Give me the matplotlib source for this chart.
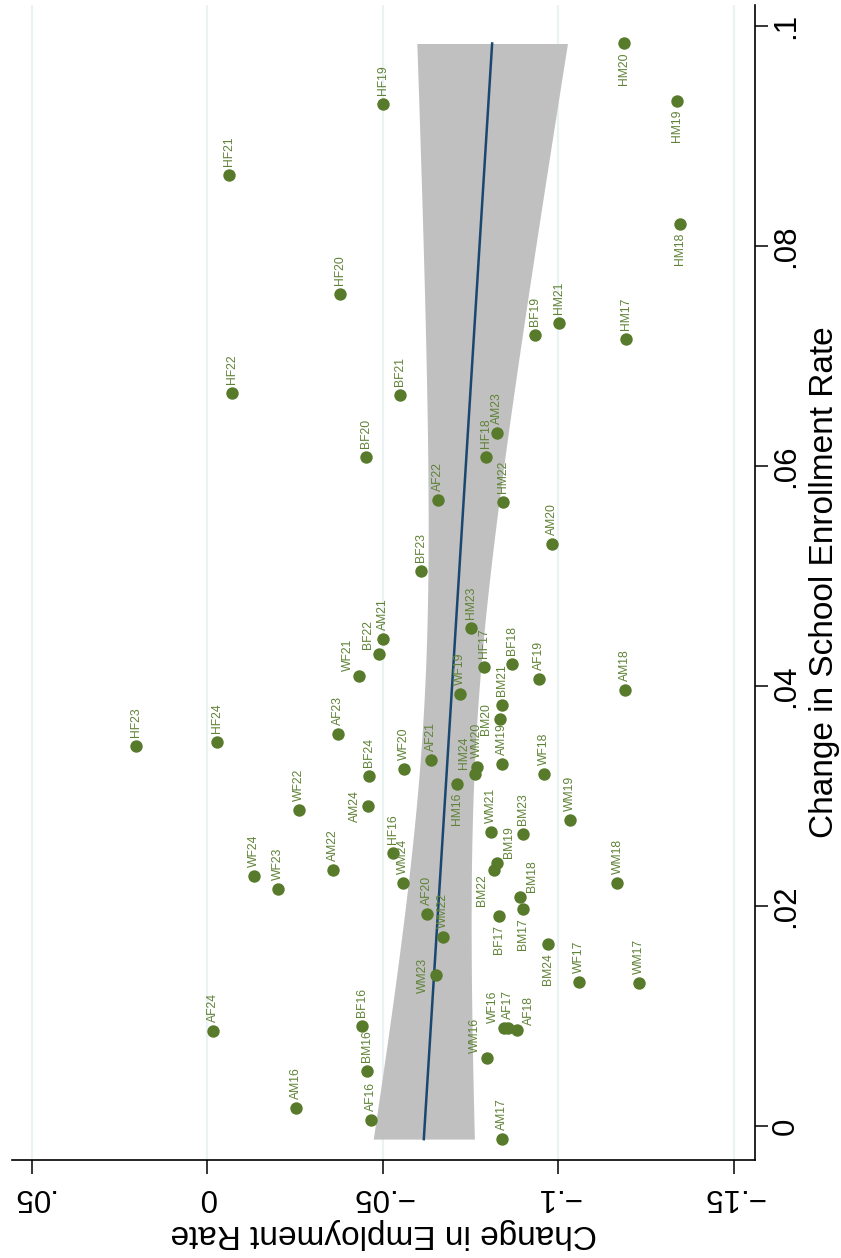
import numpy as np
import matplotlib
matplotlib.use('Agg')
import matplotlib.pyplot as plt

plt.rcParams['font.family'] = ['Liberation Sans', 'DejaVu Sans']

# ---- data ----
labels = ['HF23', 'AF24', 'HF24', 'HF21', 'HF22', 'WF24', 'WF23', 'AM16', 'WF22', 'AM22',
          'AF23', 'HF20', 'WF21', 'BF20', 'BF16', 'BM16', 'AF16', 'AM24', 'BF24', 'BF22',
          'AM21', 'HF19', 'HF16', 'BF21', 'WM24', 'WF20', 'BF23', 'AF20', 'AF21', 'WM23',
          'AF22', 'WM22', 'HM16', 'WF19', 'HM23', 'HM24', 'WM20', 'HF17', 'HF18', 'WM16',
          'WM21', 'BM22', 'BM19', 'AM23', 'BF17', 'BM20', 'BM21', 'AM17', 'AM19', 'HM22',
          'WF16', 'AF17', 'BF18', 'AF18', 'BM18', 'BM17', 'BM23', 'BF19', 'AF19', 'WF18',
          'BM24', 'AM20', 'HM21', 'WM19', 'WF17', 'WM18', 'HM20', 'AM18', 'HM17', 'WM17',
          'HM19', 'HM18']

emp_change = [0.0204, -0.0015, -0.0028, -0.0062, -0.0071, -0.0133, -0.0200, -0.0253, -0.0262, -0.0357,
              -0.0373, -0.0378, -0.0433, -0.0451, -0.0442, -0.0454, -0.0466, -0.0459, -0.0462, -0.0490,
              -0.0500, -0.0501, -0.0530, -0.0549, -0.0557, -0.0560, -0.0609, -0.0625, -0.0637, -0.0652,
              -0.0658, -0.0671, -0.0712, -0.0720, -0.0751, -0.0763, -0.0769, -0.0789, -0.0793, -0.0796,
              -0.0808, -0.0817, -0.0826, -0.0826, -0.0831, -0.0834, -0.0839, -0.0839, -0.0840, -0.0844,
              -0.0846, -0.0858, -0.0867, -0.0883, -0.0891, -0.0900, -0.0900, -0.0934, -0.0946, -0.0960,
              -0.0970, -0.0983, -0.1003, -0.1034, -0.1059, -0.1169, -0.1188, -0.1190, -0.1193, -0.1230,
              -0.1339, -0.1347]

enr_change = [0.0345, 0.0086, 0.0349, 0.0864, 0.0666, 0.0227, 0.0215, 0.0016, 0.0287, 0.0233,
              0.0356, 0.0756, 0.0409, 0.0608, 0.0091, 0.0050, 0.0005, 0.0291, 0.0318, 0.0429,
              0.0443, 0.0929, 0.0248, 0.0664, 0.0221, 0.0324, 0.0504, 0.0193, 0.0333, 0.0137,
              0.0569, 0.0172, 0.0311, 0.0393, 0.0453, 0.0320, 0.0326, 0.0417, 0.0608, 0.0062,
              0.0267, 0.0233, 0.0239, 0.0630, 0.0191, 0.0370, 0.0383, -0.0012, 0.0329, 0.0567,
              0.0089, 0.0089, 0.0420, 0.0087, 0.0208, 0.0197, 0.0265, 0.0719, 0.0406, 0.0320,
              0.0165, 0.0529, 0.0730, 0.0278, 0.0131, 0.0221, 0.0984, 0.0396, 0.0715, 0.0130,
              0.0932, 0.0820]

emp_ticks = [0.05, 0.0, -0.05, -0.10, -0.15]
emp_ticklabels = ['.05', '0', '\u2212.05', '\u2212.1', '\u2212.15']
enr_ticks = [0.0, 0.02, 0.04, 0.06, 0.08, 0.10]
enr_ticklabels = ['0', '.02', '.04', '.06', '.08', '.1']

# label placement (style only): side of the marker in the rotated picture
label_side = {'WF21': 'ul', 'BF22': 'ul', 'AM24': 'l', 'WM23': 'l', 'HM16': 'd',
              'HM24': 'ul', 'BM20': 'l', 'BM22': 'dl', 'BF17': 'd', 'BM17': 'd',
              'BM24': 'd', 'BM18': 'ur', 'BM19': 'ur', 'WF16': 'ul', 'AF18': 'ur',
              'WM16': 'ul', 'HM20': 'd', 'HM19': 'd', 'HM18': 'd'}
side_style = {'u': ((0, 6.5), 'center', 'bottom'),
              'd': ((0, -6.5), 'center', 'top'),
              'l': ((-5.5, 0), 'right', 'center'),
              'ul': ((-4, 3.5), 'right', 'bottom'),
              'ur': ((4, 3.5), 'left', 'bottom'),
              'dl': ((-4, -3.5), 'right', 'top')}

marker_color = '#577a2b'
label_color = '#5f8237'
line_color = '#1a476f'
band_color = '#c0c0c0'
grid_color = '#eaf2f3'

fig = plt.figure(figsize=(8.41, 12.58), dpi=100)
ax = fig.add_axes([12 / 841, 1 - 1160 / 1258, 743 / 841, 1155 / 1258])

x = np.array(enr_change)
y = np.array(emp_change)
n = len(x)
b1, b0 = np.polyfit(x, y, 1)
resid = y - (b0 + b1 * x)
s2 = (resid ** 2).sum() / (n - 2)
grid = np.linspace(x.min(), x.max(), 200)
fit = b0 + b1 * grid
se = np.sqrt(s2 * (1.0 / n + (grid - x.mean()) ** 2 / ((x - x.mean()) ** 2).sum()))
tcrit = 1.994
ax.fill_betweenx(grid, fit - tcrit * se, fit + tcrit * se, color=band_color, lw=0, zorder=1)
ax.plot(fit, grid, color=line_color, lw=1.8, zorder=2)

ax.scatter(y, x, s=80, color=marker_color, linewidths=0, zorder=3)
for lab, e, r in zip(labels, emp_change, enr_change):
    off, ha, va = side_style[label_side.get(lab, 'u')]
    ax.annotate(lab, (e, r), xytext=off, textcoords='offset points', rotation=90,
                ha=ha, va=va, fontsize=8.7, color=label_color, zorder=4)

ax.set_xlim(0.0557, -0.1561)
ax.set_ylim(-0.0031, 0.1019)

ax.set_xticks(emp_ticks)
ax.set_xticklabels(emp_ticklabels, rotation=180, fontsize=22.5)
ax.yaxis.tick_right()
ax.yaxis.set_label_position('right')
ax.set_yticks(enr_ticks)
ax.set_yticklabels(enr_ticklabels, rotation=90, fontsize=22.5, va='center')

ax.grid(axis='x', color=grid_color, lw=1.6)
ax.set_axisbelow(True)
for s in ['top', 'left']:
    ax.spines[s].set_visible(False)
for s in ['bottom', 'right']:
    ax.spines[s].set_linewidth(1.2)
ax.tick_params(axis='x', direction='out', length=10, width=1.1, pad=6)
ax.tick_params(axis='y', direction='out', length=9.5, width=1.1, pad=2)

ax.set_xlabel('Change in Employment Rate', rotation=180, fontsize=24, labelpad=4)
ax.set_ylabel('Change in School Enrollment Rate', rotation=90, fontsize=24, labelpad=6)

fig.savefig('out.png', dpi=100)
